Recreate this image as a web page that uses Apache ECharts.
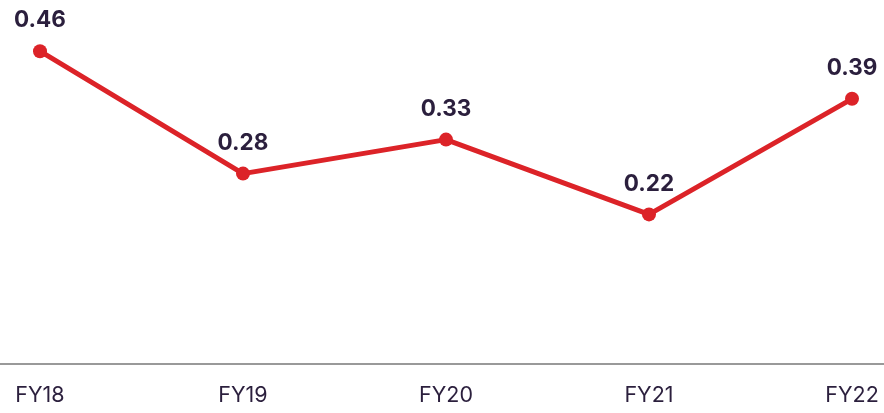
<!DOCTYPE html>
<html lang="en">
<head>
<meta charset="utf-8">
<title>FY chart</title>
<style>
  html, body { margin: 0; padding: 0; background: #fff; }
  #main { width: 884px; height: 413px; }
</style>
<script src="https://cdn.jsdelivr.net/npm/echarts@6/dist/echarts.min.js"></script>
</head>
<body>
<div id="main"></div>
<script>
  var categories = ['FY18', 'FY19', 'FY20', 'FY21', 'FY22'];
  var values = [0.46, 0.28, 0.33, 0.22, 0.39];

  var myChart = echarts.init(document.getElementById('main'));
  var option = {
    animation: false,
    grid: [
      { left: 40, right: 32, top: 24, bottom: 49 },
      // full-width base line
      { left: 0, right: 0, top: 24, bottom: 49 }
    ],
    xAxis: [{
      type: 'category',
      gridIndex: 0,
      data: categories,
      boundaryGap: false,
      axisLine: { show: false },
      axisTick: { show: false },
      axisLabel: {
        margin: 21,
        fontFamily: 'Inter',
        fontSize: 21.5,
        color: '#2b1f3d'
      }
    }, {
      type: 'value',
      gridIndex: 1,
      min: 0, max: 1,
      axisLine: { show: true, lineStyle: { color: '#777', width: 1.5 } },
      axisTick: { show: false },
      axisLabel: { show: false },
      splitLine: { show: false }
    }],
    yAxis: [{
      type: 'value',
      gridIndex: 0,
      min: 0, max: 0.5,
      show: false
    }, {
      type: 'value',
      gridIndex: 1,
      min: 0, max: 1,
      show: false
    }],
    series: [{
      type: 'line',
      xAxisIndex: 0,
      yAxisIndex: 0,
      data: values,
      symbol: 'circle',
      symbolSize: 14,
      lineStyle: { color: '#dc2328', width: 5 },
      itemStyle: { color: '#dc2328' },
      label: {
        show: true,
        position: 'top',
        distance: 12,
        fontFamily: 'Inter',
        fontWeight: 'bold',
        fontSize: 22.5,
        color: '#2b1f3d',
        formatter: function (p) { return p.value.toFixed(2); }
      }
    }]
  };
  myChart.setOption(option);
</script>
</body>
</html>
